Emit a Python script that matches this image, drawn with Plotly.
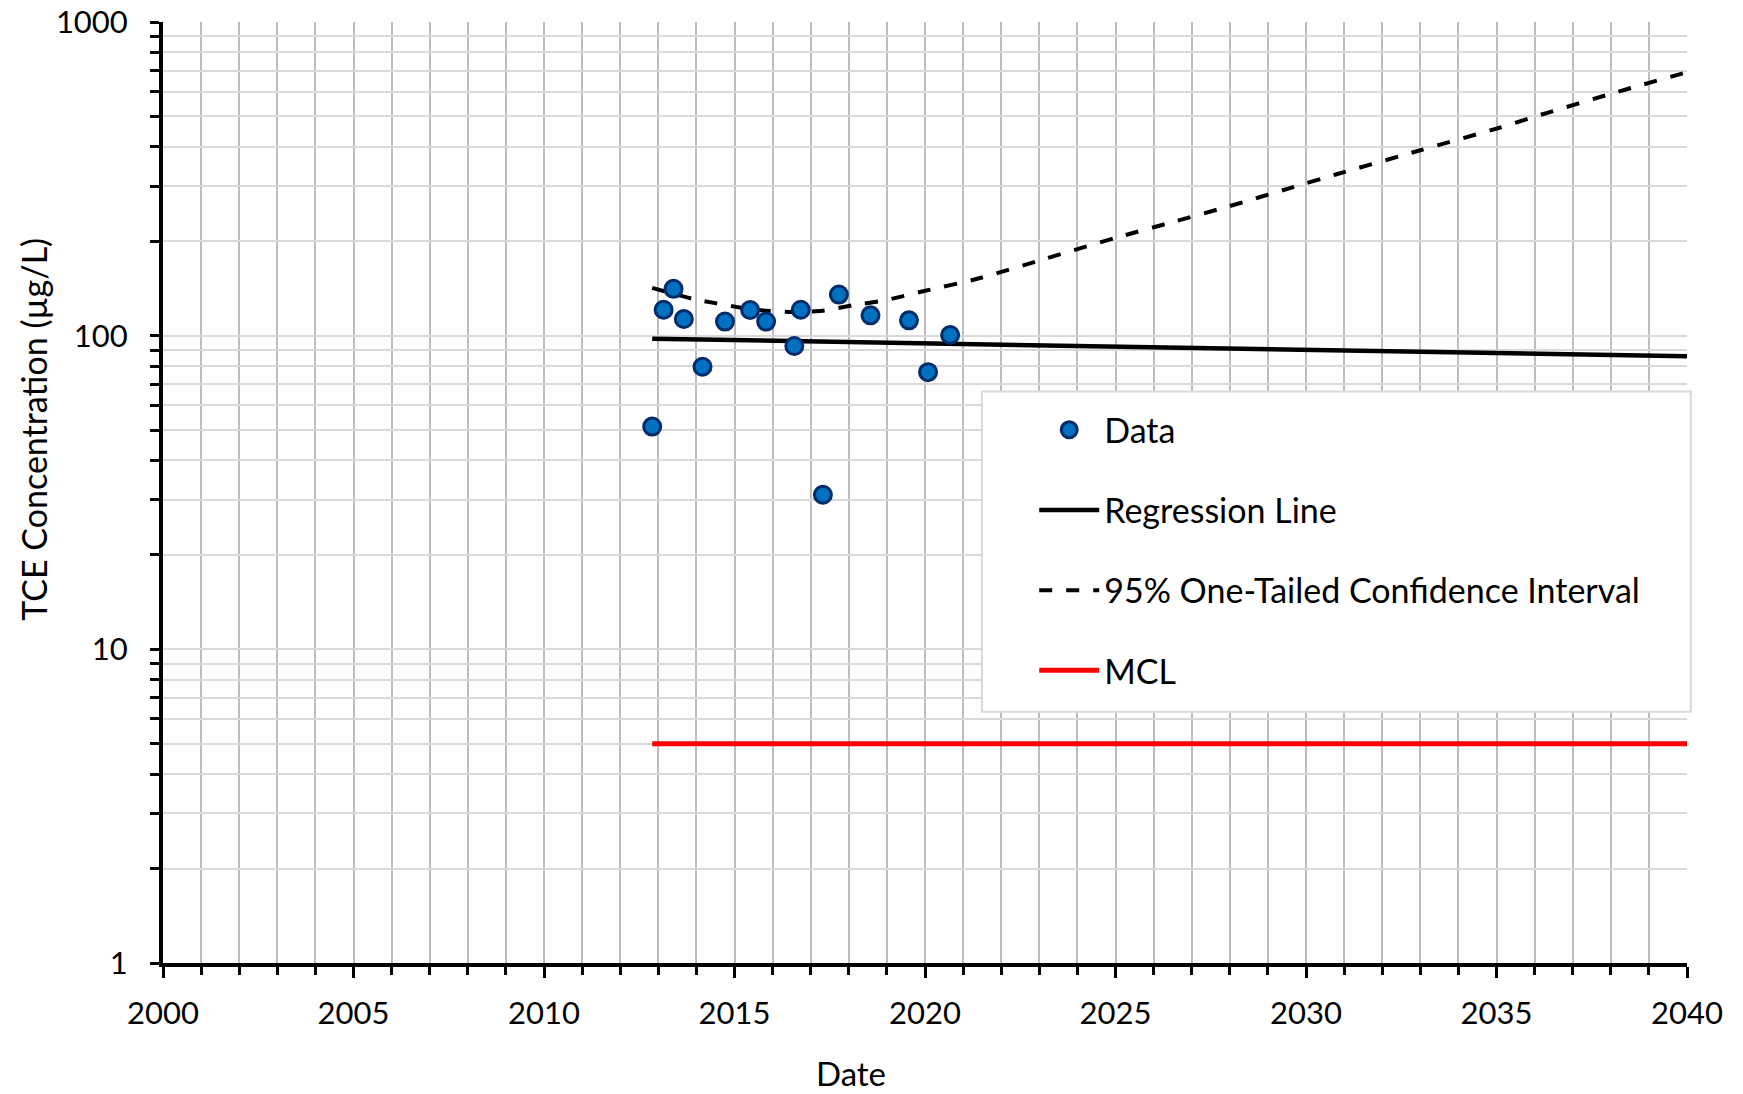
import plotly.graph_objects as go

# Sampling dates (decimal years) and measured TCE concentrations (µg/L)
sample_year = [2012.84, 2013.14, 2013.40, 2013.67, 2014.16, 2014.75, 2015.41, 2015.83,
               2016.57, 2016.74, 2017.32, 2017.74, 2018.57, 2019.58, 2020.08, 2020.66]
tce_ugl = [51.3, 121.0, 141.0, 113.0, 79.6, 110.9, 120.7, 110.9,
           92.7, 121.0, 31.1, 135.2, 116.1, 111.9, 76.5, 100.5]

# Log-linear regression line (endpoints)
reg_year = [2012.84, 2040.0]
reg_ugl = [97.8, 85.9]

# Upper 95% one-tailed confidence bound
ci_year = [2012.84, 2013.9, 2014.5, 2015.5, 2016.5, 2017.3, 2018.1, 2019.0, 2020.0,
           2021.3, 2023.1, 2025.0, 2026.6, 2028.0, 2029.6, 2030.8, 2033.0, 2035.1,
           2036.0, 2038.1, 2040.0]
ci_ugl = [142, 131, 127, 121, 119, 120, 125, 130, 139,
          151, 175, 205, 232, 259, 296, 327, 390, 461,
          499, 595, 692]

# Maximum contaminant level
mcl_year = [2012.84, 2040.0]
mcl_ugl = [5, 5]

x_range = [2000, 2040]
y_decades = [1, 10, 100, 1000]

FONT = "Lato"
W, H = 1743, 1094
L, R, T, B = 162.5, 56, 22, 131.4
PW, PH = W - L - R, H - T - B


def px_to_paper_x(px):
    return (px - L) / PW


def px_to_paper_y(py):
    return (H - B - py) / PH


# y tick positions: every 1..9 within each decade, labelled at decades only
y_tickvals, y_ticktext = [], []
for d in y_decades[:-1]:
    for m in range(1, 10):
        v = m * d
        y_tickvals.append(v)
        y_ticktext.append(str(v) if m == 1 else "")
y_tickvals.append(y_decades[-1])
y_ticktext.append(str(y_decades[-1]))

fig = go.Figure()

fig.add_trace(go.Scatter(
    x=mcl_year, y=mcl_ugl, mode="lines", name="MCL",
    line=dict(color="#FF0000", width=5),
    legendgroup="mcl", legendrank=4,
))
fig.add_trace(go.Scatter(
    x=reg_year, y=reg_ugl, mode="lines", name="Regression Line",
    line=dict(color="#000000", width=4.5),
    legendgroup="reg", legendrank=2,
))
fig.add_trace(go.Scatter(
    x=ci_year, y=ci_ugl, mode="lines", name="95% One-Tailed Confidence Interval",
    line=dict(color="#000000", width=4, dash="13px,14px", shape="spline", smoothing=0.6),
    legendgroup="ci", legendrank=3,
))
fig.add_trace(go.Scatter(
    x=sample_year, y=tce_ugl, mode="markers", name="Data",
    marker=dict(size=17, color="#0070C0", line=dict(color="#002C6B", width=3)),
    legendgroup="data", legendrank=1,
))

# Legend frame
fig.add_shape(
    type="rect", xref="paper", yref="paper",
    x0=px_to_paper_x(981.6), x1=px_to_paper_x(1690.8),
    y0=px_to_paper_y(711.4), y1=px_to_paper_y(391.3),
    line=dict(color="#d9d9d9", width=2), fillcolor="white", layer="above",
)

fig.add_annotation(
    text="Date", xref="paper", yref="paper",
    x=px_to_paper_x(851), y=px_to_paper_y(1073),
    showarrow=False, font=dict(family=FONT, size=33, color="black"),
    xanchor="center", yanchor="middle",
)
fig.add_annotation(
    text="TCE Concentration (µg/L)", xref="paper", yref="paper",
    x=px_to_paper_x(33), y=px_to_paper_y(429), textangle=-90,
    showarrow=False, font=dict(family=FONT, size=34, color="black"),
    xanchor="center", yanchor="middle",
)

fig.update_layout(
    width=W, height=H,
    margin=dict(l=L, r=R, t=T, b=B, autoexpand=False),
    paper_bgcolor="white", plot_bgcolor="white",
    font=dict(family=FONT, size=31, color="black"),
    showlegend=True,
    legend=dict(
        x=px_to_paper_x(1034), y=px_to_paper_y(401),
        xanchor="left", yanchor="top",
        bgcolor="rgba(0,0,0,0)", borderwidth=0,
        traceorder="grouped", tracegroupgap=33,
        itemwidth=60,
        font=dict(family=FONT, size=34, color="black"),
    ),
    xaxis=dict(
        range=x_range, tick0=2000, dtick=5, automargin=False,
        showline=True, linecolor="black", linewidth=4,
        ticks="outside", ticklen=11, tickwidth=3, tickcolor="black",
        showgrid=True, gridcolor="#bdbdbd", gridwidth=2,
        zeroline=False, ticklabelstandoff=9,
        tickfont=dict(family=FONT, size=31, color="black"),
        minor=dict(dtick=1, ticks="outside", ticklen=8, tickwidth=3, tickcolor="black",
                   showgrid=True, gridcolor="#bdbdbd", gridwidth=2),
    ),
    yaxis=dict(
        type="log", range=[0, 3], automargin=False,
        tickmode="array", tickvals=y_tickvals, ticktext=y_ticktext,
        showline=True, linecolor="black", linewidth=4,
        ticks="outside", ticklen=9, tickwidth=3, tickcolor="black",
        showgrid=True, gridcolor="#d9d9d9", gridwidth=2,
        zeroline=False, ticklabelstandoff=16,
        tickfont=dict(family=FONT, size=31, color="black"),
    ),
)

fig.write_html("out.html")
